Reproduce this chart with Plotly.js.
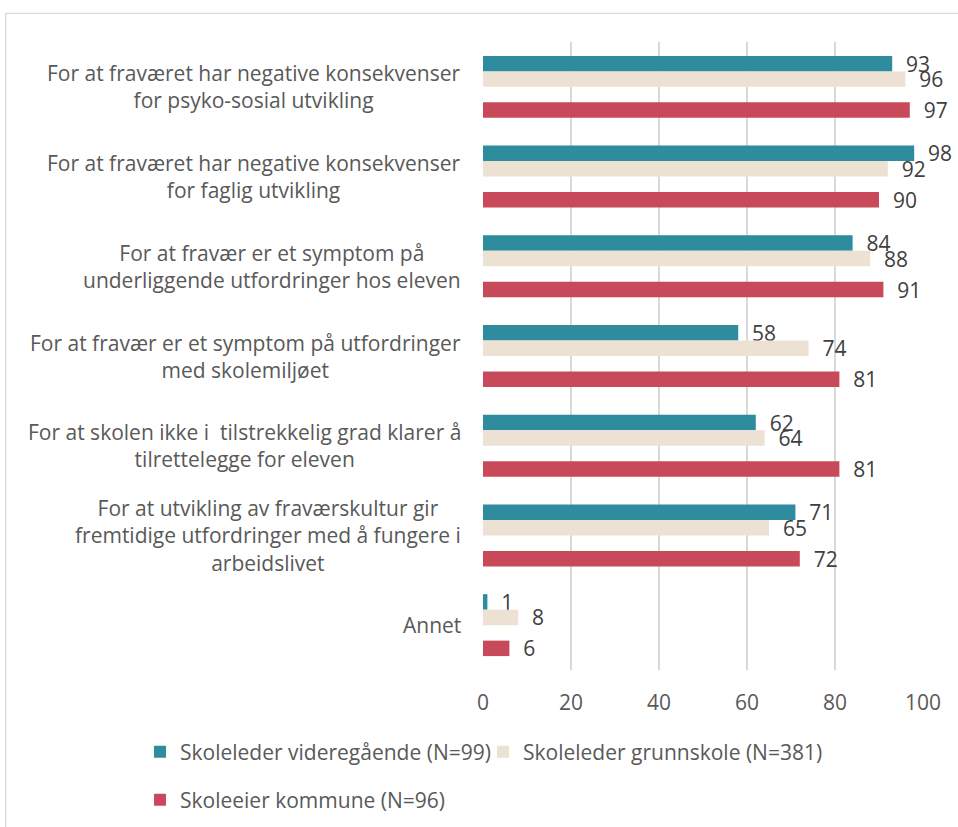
<!DOCTYPE html>
<html>
<head>
<meta charset="utf-8">
<script src="https://cdn.plot.ly/plotly-3.0.1.min.js"></script>
<style>
html,body{margin:0;padding:0;background:#ffffff;}
#chart{width:958px;height:827px;}
</style>
</head>
<body>
<div id="chart"></div>
<script>
// ---- data ----
const categories = [
  "For at fraværet har negative konsekvenser<br>for psyko-sosial utvikling",
  "For at fraværet har negative konsekvenser<br>for faglig utvikling",
  "For at fravær er et symptom på<br>underliggende utfordringer hos eleven",
  "For at fravær er et symptom på utfordringer<br>med skolemiljøet",
  "For at skolen ikke i \u00a0tilstrekkelig grad klarer å<br>tilrettelegge for eleven",
  "For at utvikling av fraværskultur gir<br>fremtidige utfordringer med å fungere i<br>arbeidslivet",
  "Annet"
];
const seriesNames = [
  "Skoleleder videregående (N=99)",
  "Skoleleder grunnskole (N=381)",
  "Skoleeier kommune (N=96)"
];
const videregaende = [93, 98, 84, 58, 62, 71, 1];
const grunnskole   = [96, 92, 88, 74, 64, 65, 8];
const kommune      = [97, 90, 91, 81, 81, 72, 6];
const xTicks = [0, 20, 40, 60, 80, 100];

// ---- styling ----
const FONT = "'Open Sans', Lato, sans-serif";
const FS = 21;
const colors = ["#2E8C9E", "#EDE1D3", "#C84A5A"];
const barW = 0.1725;
const offsets = [-2 * barW, -barW, barW];   // empty slot between 2nd and 3rd series
const legendIds = ["legend", "legend2", "legend3"];
const seriesValues = [videregaende, grunnskole, kommune];

const L = 483, R = 35, T = 42, B = 157, W = 958, H = 827;
const pw = W - L - R, ph = H - T - B;
const px2x = p => (p - L) / pw;
const px2y = p => (H - B - p) / ph;

const traces = seriesValues.map((vals, i) => ({
  type: "bar",
  orientation: "h",
  name: seriesNames[i],
  y: categories,
  x: vals,
  width: barW,
  offset: offsets[i],
  marker: {color: colors[i], line: {width: 0}},
  text: vals.map(String),
  texttemplate: "\u00a0\u00a0%{x}",
  textposition: "outside",
  constraintext: "none",
  cliponaxis: false,
  textfont: {family: FONT, size: FS, color: "#404040"},
  hoverinfo: "skip",
  legend: legendIds[i]
}));

const annotations = categories.map(c => ({
  xref: "paper", yref: "y",
  x: px2x(463), y: c,
  xanchor: "right", yanchor: "middle",
  align: "center",
  showarrow: false,
  font: {family: FONT, size: FS, color: "#595959"},
  text: c
}));

const legendBase = {
  orientation: "h",
  xanchor: "left", yanchor: "top",
  bgcolor: "rgba(0,0,0,0)",
  borderwidth: 0,
  font: {family: FONT, size: FS, color: "#595959"}
};

const layout = {
  width: W, height: H,
  margin: {l: L, r: R, t: T, b: B, autoexpand: false},
  paper_bgcolor: "#ffffff",
  plot_bgcolor: "#ffffff",
  barmode: "overlay",
  showlegend: true,
  font: {family: FONT, color: "#595959"},
  xaxis: {
    range: [0, 100],
    tickvals: xTicks,
    ticktext: xTicks.map(String),
    showgrid: true, gridcolor: "#d9d9d9", gridwidth: 1.3,
    zeroline: false, showline: false, ticks: "",
    ticklabelstandoff: 18,
    tickfont: {family: FONT, size: FS, color: "#595959"},
    fixedrange: true
  },
  yaxis: {
    type: "category",
    range: [categories.length - 0.5, -0.5],
    showticklabels: false, showgrid: false, zeroline: false, showline: false, ticks: "",
    fixedrange: true
  },
  legend:  Object.assign({}, legendBase, {x: px2x(140), y: px2y(731.5)}),
  legend2: Object.assign({}, legendBase, {x: px2x(483), y: px2y(731.5)}),
  legend3: Object.assign({}, legendBase, {x: px2x(140), y: px2y(779.5)}),
  annotations: annotations,
  shapes: [{
    type: "rect", xref: "paper", yref: "paper",
    x0: px2x(5.7), x1: px2x(1100), y0: px2y(1000), y1: px2y(13.3),
    line: {color: "#d9d9d9", width: 1.3},
    fillcolor: "rgba(0,0,0,0)",
    layer: "below"
  }]
};

Plotly.newPlot("chart", traces, layout, {displayModeBar: false, staticPlot: true});
</script>
</body>
</html>
